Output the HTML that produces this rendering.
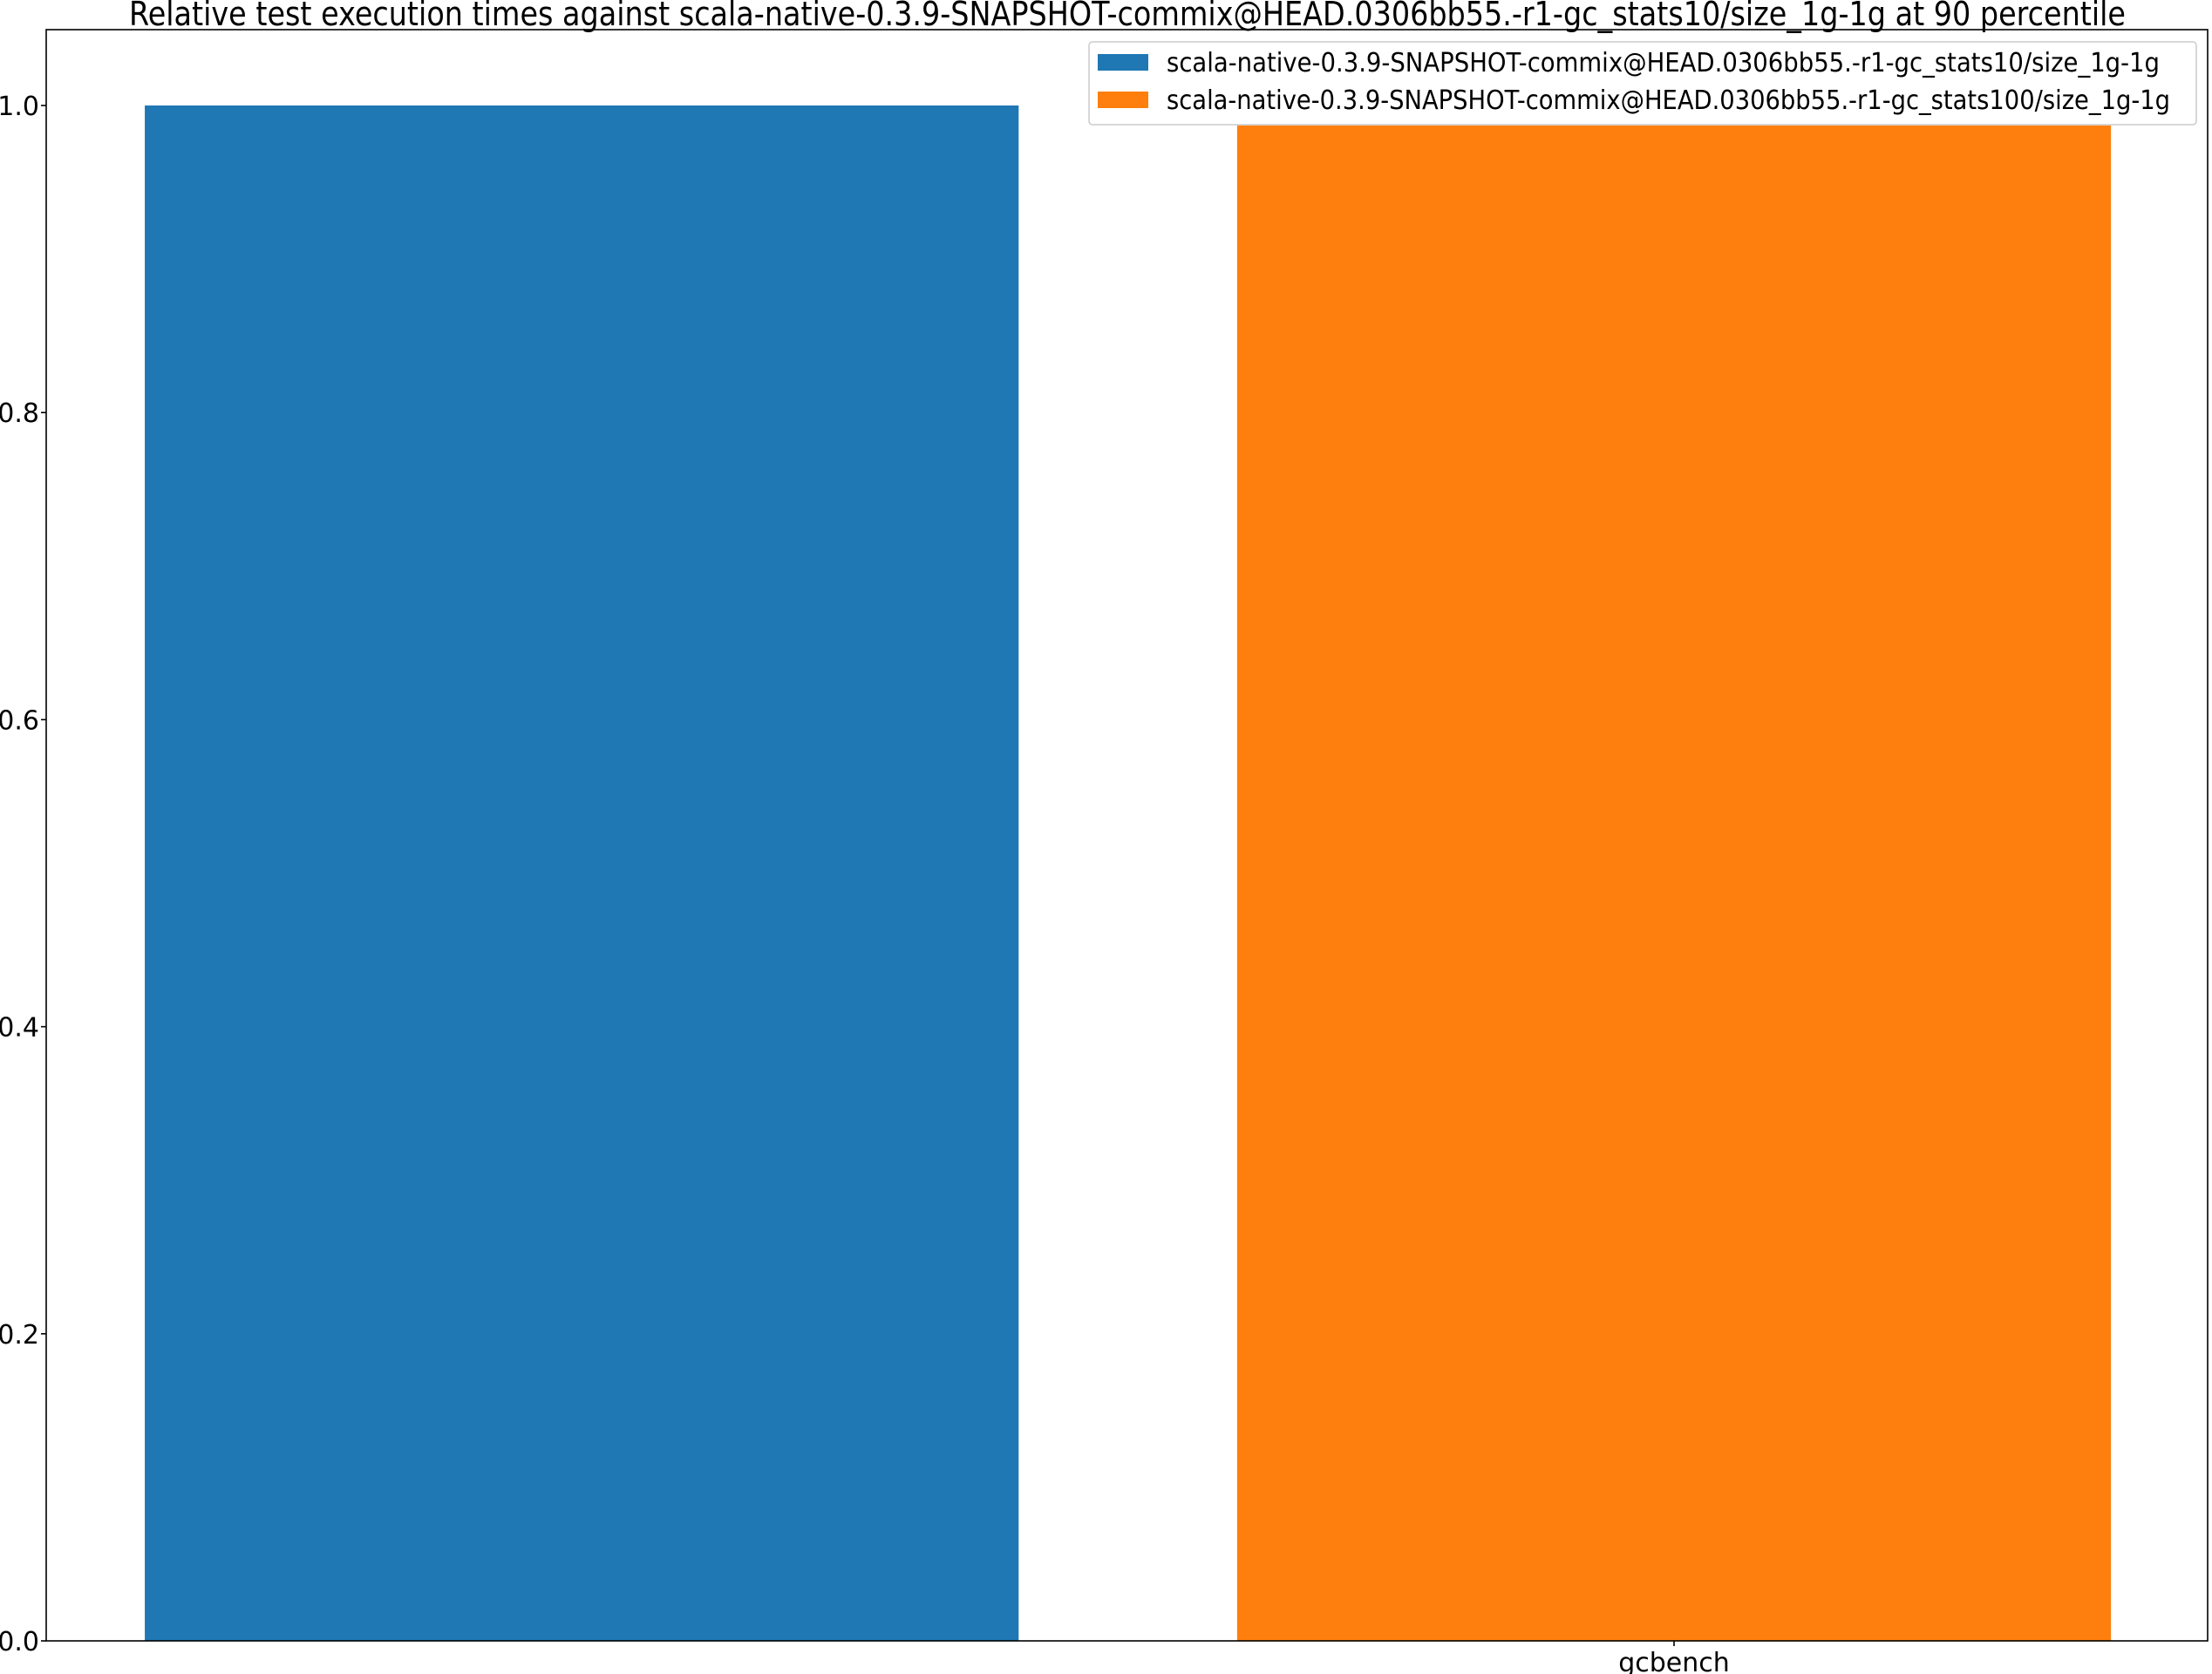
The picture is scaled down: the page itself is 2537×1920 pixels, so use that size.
<!DOCTYPE html>
<html><head><meta charset="utf-8"><style>
html,body{margin:0;padding:0;background:#fff}
svg{display:block}
text{font-family:"DejaVu Sans","Liberation Sans",sans-serif;fill:#000}
</style></head><body>
<svg id="chart" width="2537" height="1920" viewBox="0 0 2537 1920" xmlns="http://www.w3.org/2000/svg">
<text x="1293" y="29" font-size="38" text-anchor="middle" textLength="2290" lengthAdjust="spacingAndGlyphs">Relative test execution times against scala-native-0.3.9-SNAPSHOT-commix@HEAD.0306bb55.-r1-gc_stats10/size_1g-1g at 90 percentile</text>
<g id="plot"></g>
</svg>
<script>
const categories = ["gcbench"];
const seriesNames = ["scala-native-0.3.9-SNAPSHOT-commix@HEAD.0306bb55.-r1-gc_stats10/size_1g-1g","scala-native-0.3.9-SNAPSHOT-commix@HEAD.0306bb55.-r1-gc_stats100/size_1g-1g"];
const seriesA = [1.0];
const seriesB = [0.987];
const yTicks = [0.0, 0.2, 0.4, 0.6, 0.8, 1.0];
const yTickLabels = ["0.0","0.2","0.4","0.6","0.8","1.0"];

const NS = "http://www.w3.org/2000/svg";
const L = 53, R = 2532, T = 34, B = 1882;
const yMax = 1.0494;
const y = v => B - v / yMax * (B - T);
const unit = 3132, x0 = 1920;
const x = v => x0 + v * unit;
const barW = 0.32, offsets = [-0.4, 0];
const colors = ["#1f77b4", "#ff7f0e"];
const g = document.getElementById("plot");
function mk(tag, attrs, parent) { const e = document.createElementNS(NS, tag); for (const k in attrs) e.setAttribute(k, attrs[k]); (parent || g).appendChild(e); return e; }

[seriesA, seriesB].forEach((vals, si) => {
  vals.forEach((v, ci) => {
    const cx = x(ci + offsets[si]);
    const r = mk("rect", { x: cx - barW * unit / 2, y: y(v), width: barW * unit, height: y(0) - y(v), fill: colors[si] });
    
    
  });
});

const frame = mk("rect", { x: L, y: T, width: R - L, height: B - T, fill: "none", stroke: "#000", "stroke-width": 1.6 });



yTicks.forEach((t, i) => {
  const tk = mk("line", { x1: L - 6, x2: L, y1: y(t), y2: y(t), stroke: "#000", "stroke-width": 1.6 });
  
  
  const lb = mk("text", { x: L - 8, y: y(t) + 11, "font-size": 30, "text-anchor": "end" });
  lb.textContent = yTickLabels[i];
  
  
});
categories.forEach((c, i) => {
  const tk = mk("line", { x1: x(i), x2: x(i), y1: B, y2: B + 6, stroke: "#000", "stroke-width": 1.6 });
  
  
  const lb = mk("text", { x: x(i), y: B + 35, "font-size": 30, "text-anchor": "middle" });
  lb.textContent = c;
  
  
});

const lg = mk("g", {});


mk("rect", { x: 1249, y: 48, width: 1270, height: 95, rx: 4, fill: "#fff", "fill-opacity": 0.8, stroke: "#ccc", "stroke-width": 1.5 }, lg);
seriesNames.forEach((n, i) => {
  const e = mk("g", {}, lg);
  
  
  const yy = 62 + i * 43;
  mk("rect", { x: 1259, y: yy, width: 58, height: 19, fill: colors[i] }, e);
  const t = mk("text", { x: 1338, y: yy + 20, "font-size": 30, textLength: i ? 1151 : 1139, lengthAdjust: "spacingAndGlyphs" }, e);
  t.textContent = n;
});
</script>
</body></html>
